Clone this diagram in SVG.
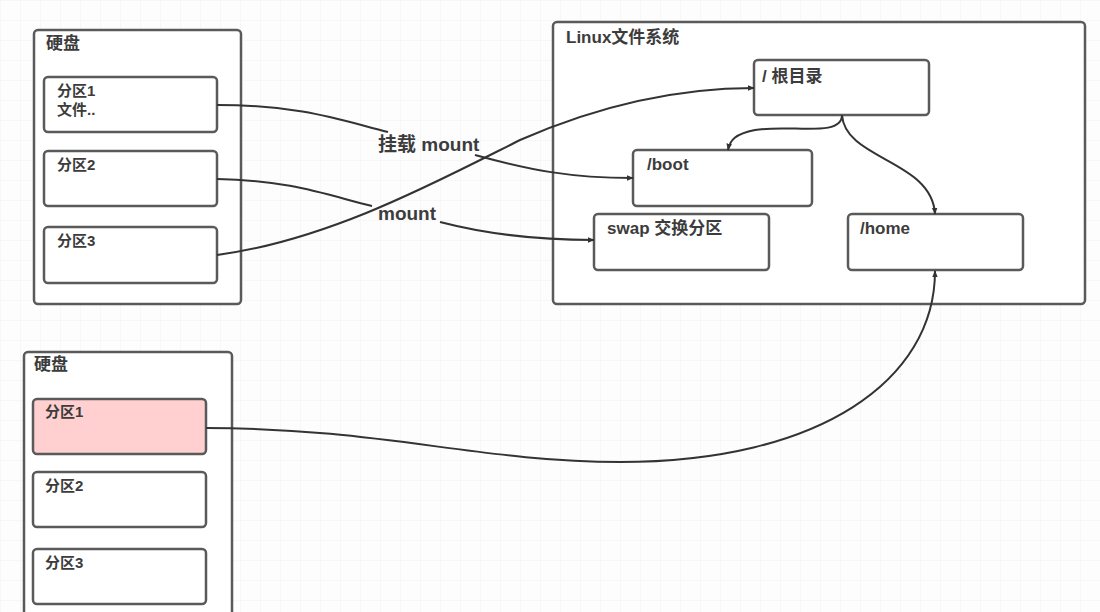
<svg xmlns="http://www.w3.org/2000/svg" width="1100" height="612" viewBox="0 0 1100 612">
<defs>
<pattern id="grid" width="20" height="20" patternUnits="userSpaceOnUse">
<path d="M20 0 L0 0 0 20" fill="none" stroke="#f1f1f1" stroke-width="1"/>
</pattern>
<marker id="arr" viewBox="0 0 10 10" refX="9" refY="5" markerWidth="7" markerHeight="7" orient="auto" markerUnits="userSpaceOnUse">
<path d="M0,1 L10,5 L0,9 Z" fill="#333"/>
</marker>
<style>
.box{fill:#fff;stroke:#5a5a5a;stroke-width:2.5}
.pink{fill:#ffd0cf;stroke:#5a5a5a;stroke-width:2.5}
.t{font-family:"Liberation Sans","Noto Sans CJK SC",sans-serif;font-size:15px;font-weight:bold;fill:#3c3c3c}
.t2{font-family:"Liberation Sans","Noto Sans CJK SC",sans-serif;font-size:17px;font-weight:bold;fill:#3c3c3c}
.lbl{font-family:"Liberation Sans","Noto Sans CJK SC",sans-serif;font-size:19px;font-weight:bold;fill:#3c3c3c}
.c{fill:none;stroke:#333;stroke-width:2;marker-end:url(#arr)}
</style>
</defs>
<rect width="1100" height="612" fill="#fdfdfd"/>
<rect width="1100" height="612" fill="url(#grid)"/>

<g id="disk1">
<rect class="box" x="34" y="30" width="207" height="274" rx="4"/>
<text class="t2" x="46" y="49">硬盘</text>
</g>
<g id="d1p1">
<rect class="box" x="44" y="77" width="173" height="55" rx="4"/>
<text class="t" x="57" y="96">分区1</text>
<text class="t" x="57" y="115">文件..</text>
</g>
<g id="d1p2">
<rect class="box" x="44" y="151" width="173" height="55" rx="4"/>
<text class="t" x="57" y="170">分区2</text>
</g>
<g id="d1p3">
<rect class="box" x="44" y="227" width="173" height="56" rx="4"/>
<text class="t" x="57" y="246">分区3</text>
</g>

<g id="linuxfs">
<rect class="box" x="553" y="22" width="532" height="282" rx="4"/>
<text class="t2" x="566" y="43">Linux文件系统</text>
</g>
<g id="root">
<rect class="box" x="754" y="60" width="175" height="55" rx="4"/>
<text class="t2" x="762" y="82">/ 根目录</text>
</g>
<g id="boot">
<rect class="box" x="633" y="150" width="179" height="56" rx="4"/>
<text class="t2" x="647" y="170">/boot</text>
</g>
<g id="swap">
<rect class="box" x="594" y="214" width="175" height="56" rx="4"/>
<text class="t2" x="607" y="234">swap 交换分区</text>
</g>
<g id="home">
<rect class="box" x="848" y="214" width="175" height="56" rx="4"/>
<text class="t2" x="860" y="234">/home</text>
</g>

<g id="disk2">
<rect class="box" x="24" y="352" width="208" height="270" rx="4"/>
<text class="t2" x="34" y="370">硬盘</text>
</g>
<g id="d2p1">
<rect class="pink" x="33" y="399" width="173" height="55" rx="4"/>
<text class="t" x="45" y="417">分区1</text>
</g>
<g id="d2p2">
<rect class="box" x="33" y="472" width="173" height="55" rx="4"/>
<text class="t" x="45" y="491">分区2</text>
</g>
<g id="d2p3">
<rect class="box" x="33" y="549" width="173" height="55" rx="4"/>
<text class="t" x="45" y="568">分区3</text>
</g>

<g id="connectors">
<path class="c" d="M217,105 C300,105 340,120 388,132 M475,155 C530,170 570,178 633,178"/>
<path class="c" d="M217,179 C290,180 330,196 372,206 M440,222 C490,235 540,240 594,240"/>
<path class="c" d="M217,255 C330,240 440,180 520,140 C600,105 680,88 754,88"/>
<path class="c" d="M842,115 C842,138 790,124 755,130 C735,134 730,140 728,150"/>
<path class="c" d="M842,115 C845,160 932,160 935,214"/>
<path class="c" d="M206,428 C380,428 480,462 620,462 C820,462 935,380 935,271"/>
<text class="lbl" x="378" y="151">挂载 mount</text>
<text class="lbl" x="378" y="220">mount</text>
</g>
</svg>
